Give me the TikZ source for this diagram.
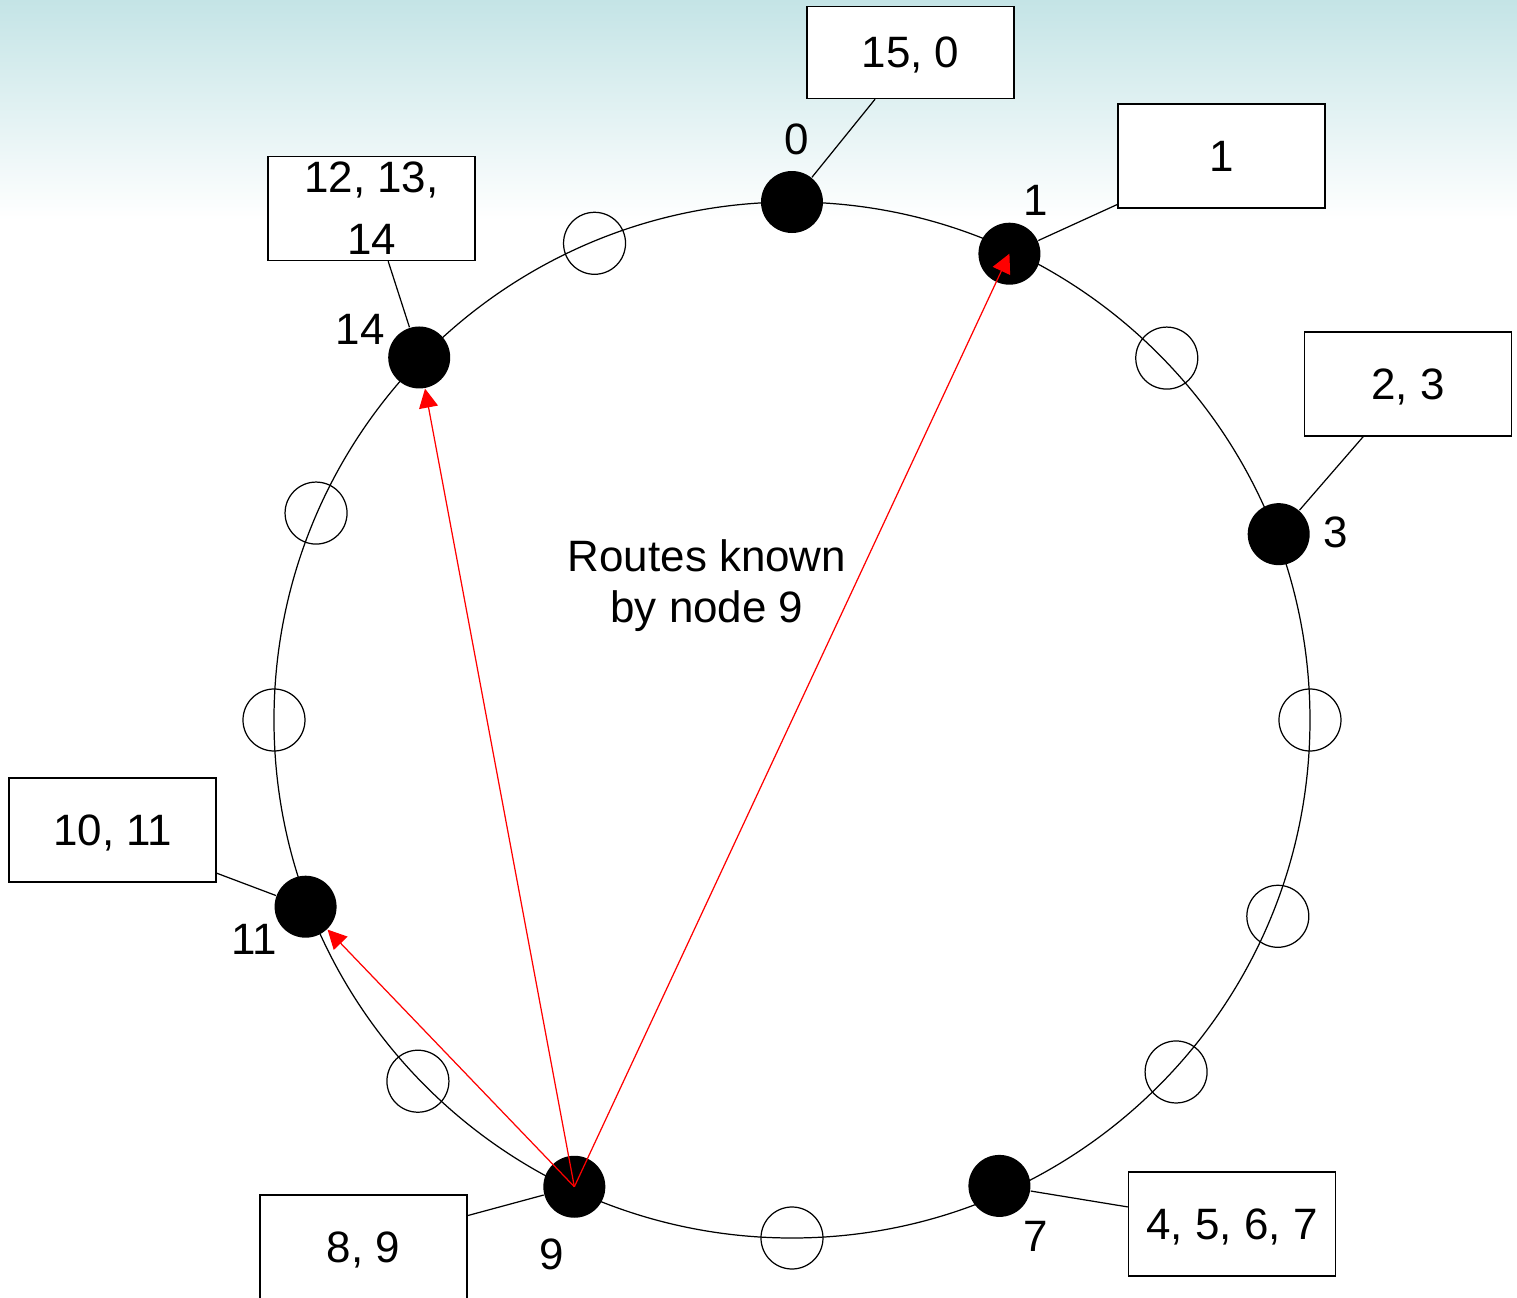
\documentclass[tikz,border=0pt]{standalone}
\usepackage{fontspec}
\setmainfont{Liberation Sans}
\usepackage{tikz}
\usetikzlibrary{arrows.meta,calc}
\definecolor{bgtop}{RGB}{196,228,230}

\begin{document}
\begin{tikzpicture}[every node/.style={font=\fontsize{12.5}{17.6}\selectfont},
	>={Triangle[length=1.9mm, width=1.9mm]},
	peer/.style={circle, fill=black, minimum size=6.2mm, inner sep=0pt},
	slot/.style={circle, draw, line width=0.35pt, minimum size=6.2mm, inner sep=0pt},
	idbox/.style={draw, fill=white, line width=0.4pt, minimum width=20.7mm, minimum height=10.4mm, inner sep=0pt},
	onebox/.style={idbox, text depth=0pt},
	tie/.style={line width=0.35pt},
	route/.style={->, red, line width=0.35pt}]
	\useasboundingbox (-7.92,-5.78) rectangle (7.25,7.20);
	\fill[white] (-7.92,-5.78) rectangle (7.25,7.20);
	\shade[top color=bgtop, bottom color=white] (-7.92,5.0) rectangle (7.25,7.20);
	% ring of ids
	\draw[line width=0.35pt] (0,0) circle (5.18);
	\foreach \k/\a/\r in {2/44/5.21, 4/0/5.18, 5/-22/5.24, 6/-42.5/5.21, 8/-90/5.18, 10/-136/5.20, 12/180/5.18, 13/156.5/5.19, 15/112.5/5.16}
		\node[slot] (s\k) at (\a:\r) {};
	\foreach \k/\a/\r in {0/90/5.18, 1/65/5.145, 3/20.9/5.21, 7/-66/5.10, 9/-115/5.15, 11/-159/5.21, 14/135.8/5.20}
		\node[peer] (n\k) at (\a:\r) {};
	% key ranges
	\node[onebox, minimum height=9.2mm] (b0) at (1.185,6.675) {15, 0};
	\node[onebox] (b1) at (4.295,5.64) {1};
	\node[onebox] (b3) at (6.16,3.36) {2, 3};
	\node[onebox] (b7) at (4.40,-5.038) {4, 5, 6, 7};
	\node[onebox, minimum height=10.5mm] (b9) at (-4.285,-5.275) {8, 9};
	\node[onebox] (b11) at (-6.794,-1.10) {10, 11};
	\node[idbox, align=center] (b14) at (-4.205,5.115) {12, 13,\\14};
	\draw[tie] ($(b0.south west)!0.33!(b0.south east)$) -- (n0);
	\draw[tie] ($(b1.south west)!0.04!(b1.north west)$) -- (n1);
	\draw[tie] ($(b3.south west)!0.285!(b3.south east)$) -- (n3);
	\draw[tie] ($(b7.north west)!0.34!(b7.south west)$) -- (n7);
	\draw[tie] ($(b9.north east)!0.2!(b9.south east)$) -- (n9);
	\draw[tie] ($(b11.north east)!0.91!(b11.south east)$) -- (n11);
	\draw[tie] ($(b14.south west)!0.58!(b14.south east)$) -- (n14);
	% node numbers
	\node (l0) at ([shift={(0.05,0.63)}]n0) {0};
	\node (l1) at ([shift={(0.26,0.53)}]n1) {1};
	\node (l3) at ([shift={(0.57,0.02)}]n3) {3};
	\node (l7) at ([shift={(0.36,-0.50)}]n7) {7};
	\node (l9) at ([shift={(-0.23,-0.68)}]n9) {9};
	\node (l11) at ([shift={(-0.51,-0.33)}]n11) {11};
	\node (l14) at ([shift={(-0.59,0.28)}]n14) {14};
	% finger routes
	\draw[route] (n9.center) -- (n11);
	\draw[route] (n9.center) -- (n14);
	\draw[route] (n9.center) -- (n1.center);
	\node[align=center, font=\fontsize{12.5}{14.5}\selectfont] (title) at (-0.85,1.34) {Routes known\\by node 9};
\end{tikzpicture}
\end{document}
